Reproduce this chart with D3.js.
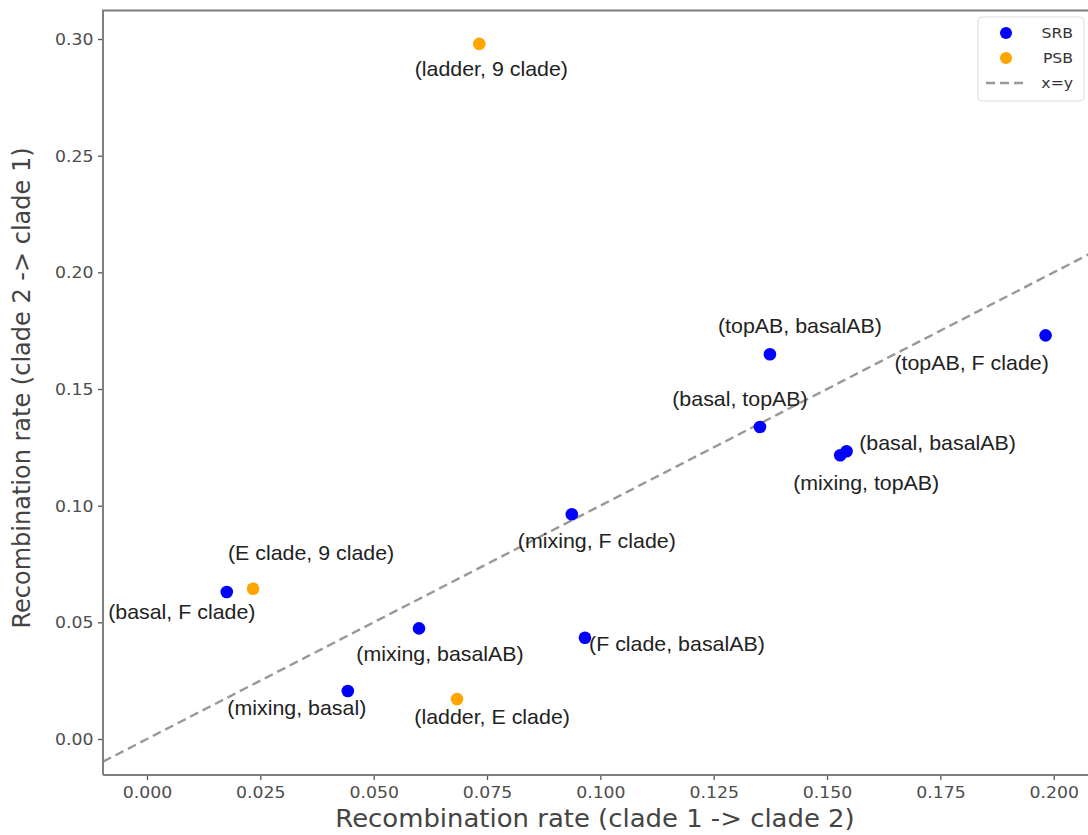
<!DOCTYPE html>
<html>
<head>
<meta charset="utf-8">
<script src="https://cdn.jsdelivr.net/npm/d3@7"></script>
<style>
  html, body { margin: 0; padding: 0; background: #fff; }
  svg { display: block; }
</style>
</head>
<body>
<svg id="chart" width="1088" height="835"></svg>
<script>
// Recombination rates between clade pairs
const pairs = [
  "(ladder, 9 clade)", "(topAB, basalAB)", "(topAB, F clade)", "(basal, topAB)",
  "(basal, basalAB)", "(mixing, topAB)", "(mixing, F clade)", "(E clade, 9 clade)",
  "(basal, F clade)", "(mixing, basalAB)", "(F clade, basalAB)", "(mixing, basal)",
  "(ladder, E clade)"
];
const groups = ["PSB", "SRB", "SRB", "SRB", "SRB", "SRB", "SRB", "PSB", "SRB", "SRB", "SRB", "SRB", "PSB"];
const rate12 = [0.0733, 0.1374, 0.1982, 0.1352, 0.1543, 0.1529, 0.0937, 0.0234, 0.0176, 0.0600, 0.0966, 0.0443, 0.0684];
const rate21 = [0.2979, 0.1649, 0.1730, 0.1337, 0.1233, 0.1216, 0.0963, 0.0644, 0.0630, 0.0474, 0.0434, 0.0206, 0.0171];

const xTicks = [0, 0.025, 0.05, 0.075, 0.1, 0.125, 0.15, 0.175, 0.2];
const yTicks = [0, 0.05, 0.1, 0.15, 0.2, 0.25, 0.3];

// label placement (pixel offset of text centre from its point)
const labelShift = [
  [12, 25], [30, -28], [-74, 27], [-20, -28],
  [91, -9], [26, 28], [25, 26], [58, -36],
  [-45, 20], [21, 25], [92, 6], [-51, 17],
  [35, 18]
];

const colors = { SRB: "#0000ff", PSB: "#ffa500" };
const WIDEN = 1.08; // horizontal stretch applied to all text

const svg = d3.select("#chart");
const plot = { left: 103, right: 1095, top: 10.5, bottom: 775 };

const x = d3.scaleLinear().domain([-0.0097, 0.2091]).range([plot.left, plot.right]);
const y = d3.scaleLinear().domain([-0.01543, 0.31222]).range([plot.bottom, plot.top]);

svg.append("clipPath").attr("id", "clip")
  .append("rect")
  .attr("x", plot.left).attr("y", plot.top)
  .attr("width", plot.right - plot.left).attr("height", plot.bottom - plot.top);

// x = y reference line
const diag = x.domain();
svg.append("line")
  .attr("clip-path", "url(#clip)")
  .attr("x1", x(diag[0])).attr("y1", y(diag[0]))
  .attr("x2", x(diag[1])).attr("y2", y(diag[1]))
  .attr("stroke", "#999").attr("stroke-width", 2.4)
  .attr("stroke-dasharray", "9,5");

// axes
const tickColor = "#4d4d4d";
const xAxis = svg.append("g")
  .attr("transform", `translate(0,${plot.bottom})`)
  .call(d3.axisBottom(x).tickValues(xTicks).tickFormat(d3.format(".3f")).tickSize(5).tickSizeOuter(0));
const yAxis = svg.append("g")
  .attr("transform", `translate(${plot.left},0)`)
  .call(d3.axisLeft(y).tickValues(yTicks).tickFormat(d3.format(".2f")).tickSize(5).tickSizeOuter(0));

[xAxis, yAxis].forEach(g => {
  g.select(".domain").remove();
  g.selectAll(".tick line").attr("stroke", "#555").attr("stroke-width", 1.3);
  g.selectAll(".tick text")
    .attr("fill", tickColor)
    .attr("transform", `scale(${WIDEN},1)`)
    .style("font-family", "'DejaVu Sans', sans-serif")
    .style("font-size", "16px");
});
xAxis.selectAll(".tick text").attr("y", 8).attr("dy", "0.95em");
yAxis.selectAll(".tick text").attr("x", -8).attr("dx", "-0.05em").attr("dy", "0.34em");

// spines (left, top, bottom)
svg.append("path")
  .attr("d", `M${plot.left},${plot.bottom}H${plot.right}M${plot.left},${plot.bottom}V${plot.top}H${plot.right}`)
  .attr("fill", "none").attr("stroke", "#7f7f7f").attr("stroke-width", 2);

// points
const rows = pairs.map((p, i) => ({ name: p, group: groups[i], a: rate12[i], b: rate21[i], shift: labelShift[i] }));

svg.append("g").selectAll("circle")
  .data(rows).join("circle")
  .attr("cx", d => x(d.a)).attr("cy", d => y(d.b))
  .attr("r", 6.3)
  .attr("fill", d => colors[d.group]);

svg.append("g").selectAll("text")
  .data(rows).join("text")
  .attr("transform", d => `translate(${x(d.a) + d.shift[0]},${y(d.b) + d.shift[1]}) scale(${WIDEN},1)`)
  .attr("text-anchor", "middle")
  .attr("dominant-baseline", "central")
  .attr("fill", "#222")
  .style("font-family", "'Liberation Sans', Arial, sans-serif")
  .style("font-size", "19.8px")
  .text(d => d.name);

// axis titles
svg.append("text")
  .attr("transform", `translate(595,827) scale(${WIDEN},1)`)
  .attr("text-anchor", "middle")
  .attr("fill", "#444")
  .style("font-family", "'DejaVu Sans', sans-serif")
  .style("font-size", "24px")
  .text("Recombination rate (clade 1 -> clade 2)");

svg.append("text")
  .attr("transform", "translate(30,388) rotate(-90)")
  .attr("text-anchor", "middle")
  .attr("fill", "#444")
  .style("font-family", "'DejaVu Sans', sans-serif")
  .style("font-size", "24px")
  .text("Recombination rate (clade 2 -> clade 1)");

// legend
const legend = svg.append("g").attr("transform", "translate(978,17)");
legend.append("rect")
  .attr("width", 106).attr("height", 84).attr("rx", 4)
  .attr("fill", "#fff").attr("fill-opacity", 0.8)
  .attr("stroke", "#ddd").attr("stroke-width", 1);

const legendItems = [
  { label: "SRB", kind: "dot", color: colors.SRB },
  { label: "PSB", kind: "dot", color: colors.PSB },
  { label: "x=y", kind: "dash", color: "#999" }
];
legendItems.forEach((it, i) => {
  const cy = 16 + i * 25;
  if (it.kind === "dot") {
    legend.append("circle").attr("cx", 28).attr("cy", cy).attr("r", 6).attr("fill", it.color);
  } else {
    legend.append("line").attr("x1", 8).attr("x2", 46).attr("y1", cy).attr("y2", cy)
      .attr("stroke", it.color).attr("stroke-width", 2.4).attr("stroke-dasharray", "9,5");
  }
  legend.append("text")
    .attr("transform", `translate(95,${cy}) scale(${WIDEN},1)`)
    .attr("text-anchor", "end")
    .attr("dominant-baseline", "central")
    .attr("fill", "#333")
    .style("font-family", "'DejaVu Sans', sans-serif")
    .style("font-size", "14.5px")
    .text(it.label);
});
</script>
</body>
</html>
